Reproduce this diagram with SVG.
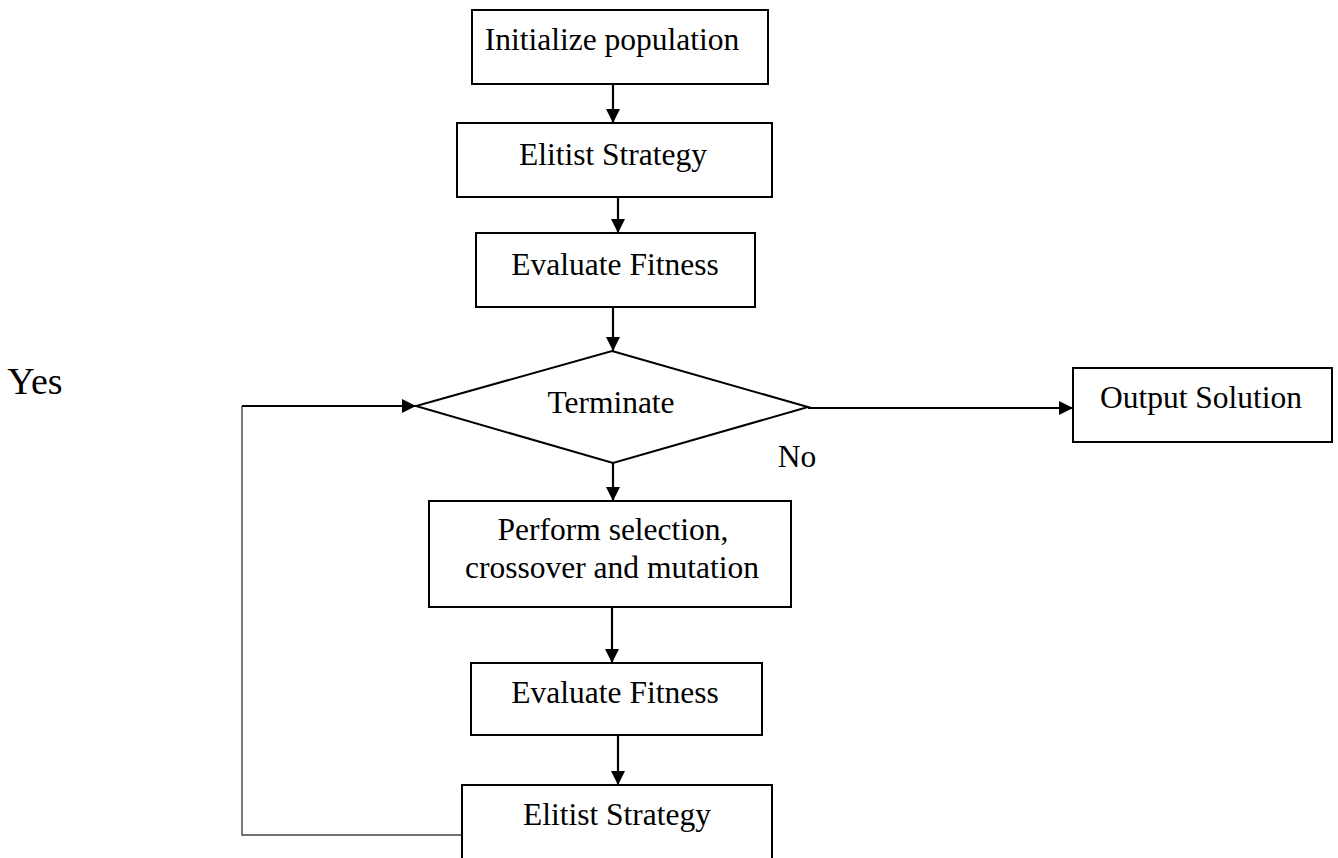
<svg xmlns="http://www.w3.org/2000/svg" width="1338" height="858" viewBox="0 0 1338 858">
  <style>
    .box { fill: #fff; stroke: #000; stroke-width: 2; }
    .lbl { font-family: "Liberation Serif", "Times New Roman", serif; font-size: 31.5px; fill: #000; text-anchor: middle; }
    .edge { fill: none; stroke: #000; stroke-width: 2.2; }
    .thin { fill: none; stroke: #444; stroke-width: 1.4; }
  </style>
  <defs>
    <marker id="arrow" viewBox="0 0 14 14" refX="14" refY="7" markerWidth="14" markerHeight="14" markerUnits="userSpaceOnUse" orient="auto">
      <path d="M0,0 L14,7 L0,14 z" fill="#000"/>
    </marker>
  </defs>

  <rect width="1338" height="858" fill="#fff"/>

  <!-- connectors -->
  <g id="connectors">
    <line class="edge" x1="613" y1="84" x2="613" y2="123" marker-end="url(#arrow)"/>
    <line class="edge" x1="618" y1="197" x2="618" y2="233" marker-end="url(#arrow)"/>
    <line class="edge" x1="613" y1="307" x2="613" y2="351" marker-end="url(#arrow)"/>
    <line class="edge" x1="613" y1="463" x2="613" y2="501" marker-end="url(#arrow)"/>
    <line class="edge" x1="612" y1="607" x2="612" y2="663" marker-end="url(#arrow)"/>
    <line class="edge" x1="618" y1="735" x2="618" y2="785" marker-end="url(#arrow)"/>
    <!-- loop back to the decision -->
    <polyline class="thin" points="462,835 242,835 242,406"/>
    <line class="edge" x1="242" y1="406" x2="416" y2="406" marker-end="url(#arrow)"/>
    <!-- exit branch -->
    <line class="edge" x1="808" y1="408" x2="1073" y2="408" marker-end="url(#arrow)"/>
  </g>

  <g id="init">
    <rect class="box" x="472" y="10" width="296" height="74"/>
    <text class="lbl" x="612" y="50">Initialize population</text>
  </g>
  <g id="elitist1">
    <rect class="box" x="457" y="123" width="315" height="74"/>
    <text class="lbl" x="613" y="165">Elitist Strategy</text>
  </g>
  <g id="eval1">
    <rect class="box" x="476" y="233" width="279" height="74"/>
    <text class="lbl" x="615" y="275">Evaluate Fitness</text>
  </g>
  <g id="terminate">
    <polygon class="box" points="612,351 808,407 613,463 416,406"/>
    <text class="lbl" x="611" y="413">Terminate</text>
  </g>
  <g id="output">
    <rect class="box" x="1073" y="368" width="259" height="74"/>
    <text class="lbl" x="1201" y="408">Output Solution</text>
  </g>
  <g id="operators">
    <rect class="box" x="429" y="501" width="362" height="106"/>
    <text class="lbl" x="613" y="540">Perform selection,</text>
    <text class="lbl" x="612" y="578">crossover and mutation</text>
  </g>
  <g id="eval2">
    <rect class="box" x="471" y="663" width="291" height="72"/>
    <text class="lbl" x="615" y="703">Evaluate Fitness</text>
  </g>
  <g id="elitist2">
    <rect class="box" x="462" y="785" width="310" height="90"/>
    <text class="lbl" x="617" y="825">Elitist Strategy</text>
  </g>

  <text class="lbl" x="797" y="467">No</text>
  <text class="lbl" x="35" y="394" style="font-size:38px">Yes</text>
</svg>
